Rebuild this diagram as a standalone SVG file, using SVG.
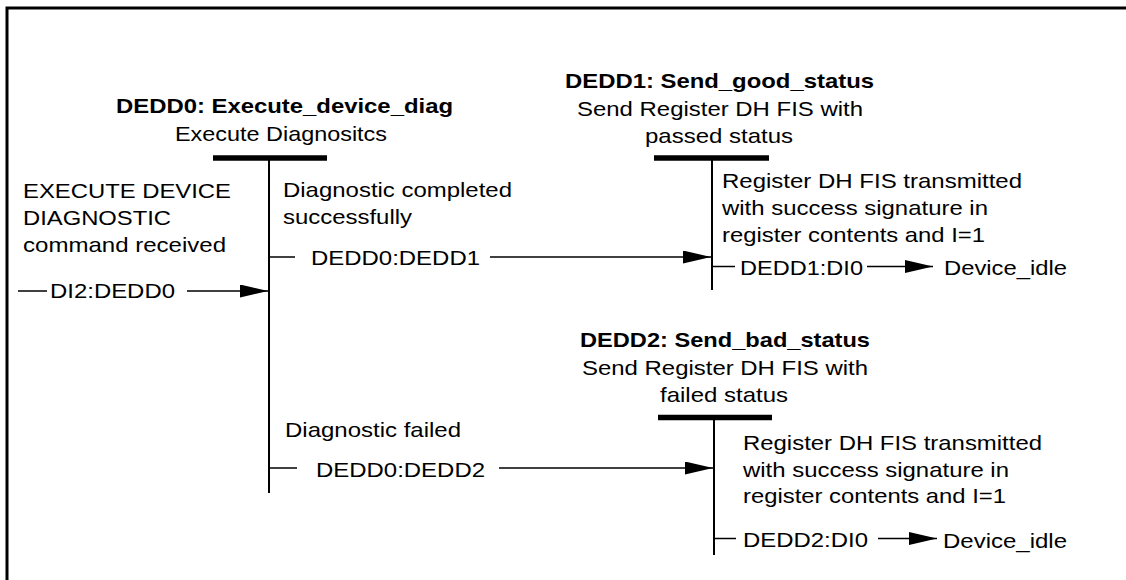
<svg xmlns="http://www.w3.org/2000/svg" width="1126" height="580" viewBox="0 0 1126 580">
<style>
text{font-family:"Liberation Sans",Arial,sans-serif;font-size:21px;fill:#000}
.b{font-weight:bold}
.bar{stroke:#000;stroke-width:5.5}
.vl{stroke:#000;stroke-width:2}
.cn{stroke:#000;stroke-width:1.5;fill:none}
</style>
<defs>
<marker id="ah" markerUnits="userSpaceOnUse" markerWidth="28" markerHeight="13" refX="28" refY="6.5" orient="auto">
<path d="M0,0 L28,6.5 L0,13 z" fill="#000"/>
</marker>
</defs>
<rect x="7" y="8" width="1140" height="600" fill="#fff" stroke="#000" stroke-width="3"/>

<g id="entry">
<text x="23" y="198" textLength="208" lengthAdjust="spacingAndGlyphs">EXECUTE DEVICE</text>
<text x="23" y="225" textLength="148" lengthAdjust="spacingAndGlyphs">DIAGNOSTIC</text>
<text x="23" y="252" textLength="203" lengthAdjust="spacingAndGlyphs">command received</text>
</g>

<g id="DEDD0">
<text class="b" x="116" y="113" textLength="337" lengthAdjust="spacingAndGlyphs">DEDD0: Execute_device_diag</text>
<text x="175" y="141" textLength="212" lengthAdjust="spacingAndGlyphs">Execute Diagnositcs</text>
<line class="bar" x1="213" y1="158" x2="327" y2="158"/>
<line class="vl" x1="269" y1="158" x2="269" y2="493"/>
<text x="283" y="197" textLength="229" lengthAdjust="spacingAndGlyphs">Diagnostic completed</text>
<text x="283" y="224" textLength="129" lengthAdjust="spacingAndGlyphs">successfully</text>
<text x="285" y="437" textLength="176" lengthAdjust="spacingAndGlyphs">Diagnostic failed</text>
</g>

<g id="DEDD1">
<text class="b" x="565" y="88" textLength="309" lengthAdjust="spacingAndGlyphs">DEDD1: Send_good_status</text>
<text x="577" y="116" textLength="286" lengthAdjust="spacingAndGlyphs">Send Register DH FIS with</text>
<text x="645" y="143" textLength="148" lengthAdjust="spacingAndGlyphs">passed status</text>
<line class="bar" x1="654" y1="158" x2="769" y2="158"/>
<line class="vl" x1="712" y1="158" x2="712" y2="290"/>
<text x="722" y="188" textLength="300" lengthAdjust="spacingAndGlyphs">Register DH FIS transmitted</text>
<text x="722" y="215" textLength="266" lengthAdjust="spacingAndGlyphs">with success signature in</text>
<text x="722" y="242" textLength="263" lengthAdjust="spacingAndGlyphs">register contents and I=1</text>
</g>

<g id="DEDD2">
<text class="b" x="580" y="347" textLength="290" lengthAdjust="spacingAndGlyphs">DEDD2: Send_bad_status</text>
<text x="582" y="375" textLength="286" lengthAdjust="spacingAndGlyphs">Send Register DH FIS with</text>
<text x="660" y="402" textLength="128" lengthAdjust="spacingAndGlyphs">failed status</text>
<line class="bar" x1="658" y1="417.5" x2="772" y2="417.5"/>
<line class="vl" x1="714" y1="417" x2="714" y2="555"/>
<text x="743" y="450" textLength="299" lengthAdjust="spacingAndGlyphs">Register DH FIS transmitted</text>
<text x="743" y="477" textLength="266" lengthAdjust="spacingAndGlyphs">with success signature in</text>
<text x="743" y="503" textLength="263" lengthAdjust="spacingAndGlyphs">register contents and I=1</text>
</g>

<g id="idle1">
<text x="944" y="275" textLength="123" lengthAdjust="spacingAndGlyphs">Device_idle</text>
</g>
<g id="idle2">
<text x="943" y="548" textLength="124" lengthAdjust="spacingAndGlyphs">Device_idle</text>
</g>

<g id="connectors">
<line class="cn" x1="18" y1="291" x2="47" y2="291"/>
<text x="50" y="298" textLength="125" lengthAdjust="spacingAndGlyphs">DI2:DEDD0</text>
<line class="cn" x1="187" y1="291" x2="268" y2="291" marker-end="url(#ah)"/>

<line class="cn" x1="269" y1="257" x2="295" y2="257"/>
<text x="311" y="265" textLength="169" lengthAdjust="spacingAndGlyphs">DEDD0:DEDD1</text>
<line class="cn" x1="490" y1="257" x2="711" y2="257" marker-end="url(#ah)"/>

<line class="cn" x1="712" y1="266.5" x2="735" y2="266.5"/>
<text x="740" y="275" textLength="123" lengthAdjust="spacingAndGlyphs">DEDD1:DI0</text>
<line class="cn" x1="867" y1="266.5" x2="933" y2="266.5" marker-end="url(#ah)"/>

<line class="cn" x1="269" y1="468" x2="297" y2="468"/>
<text x="316" y="477" textLength="169" lengthAdjust="spacingAndGlyphs">DEDD0:DEDD2</text>
<line class="cn" x1="499" y1="468" x2="713" y2="468" marker-end="url(#ah)"/>

<line class="cn" x1="714" y1="538.5" x2="736" y2="538.5"/>
<text x="743" y="547" textLength="125" lengthAdjust="spacingAndGlyphs">DEDD2:DI0</text>
<line class="cn" x1="878" y1="538.5" x2="937" y2="538.5" marker-end="url(#ah)"/>
</g>
</svg>
